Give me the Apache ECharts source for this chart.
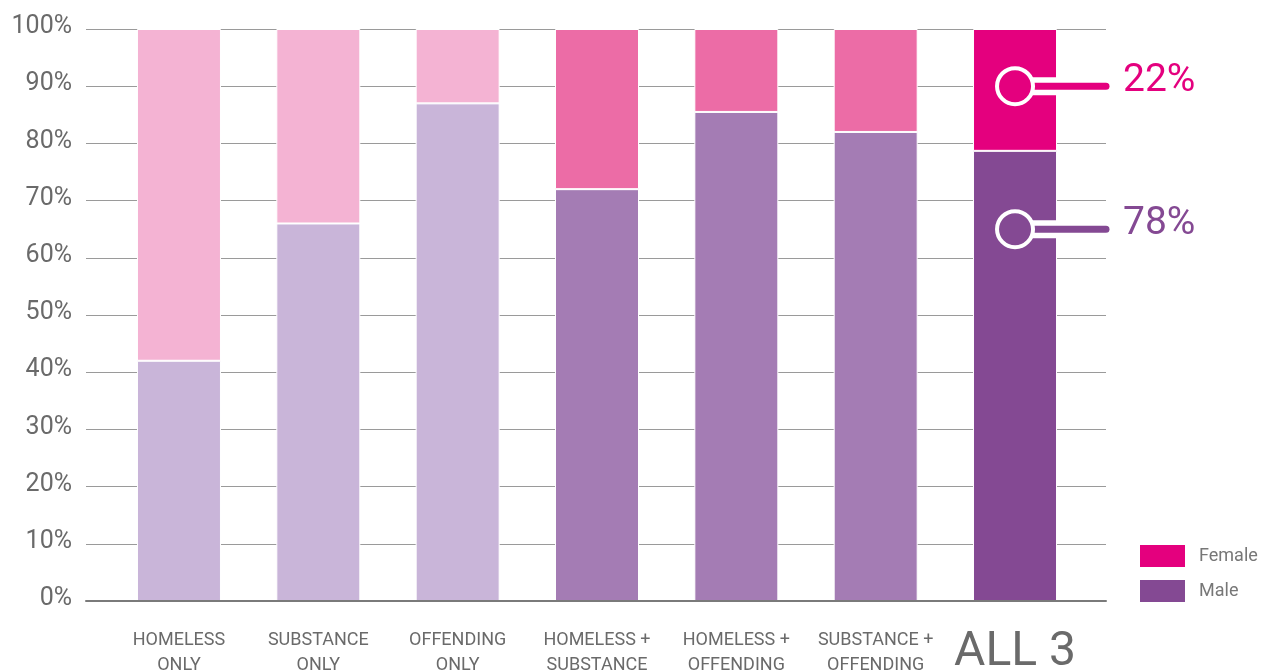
<!DOCTYPE html>
<html>
<head>
<meta charset="utf-8">
<script src="https://cdn.jsdelivr.net/npm/echarts@6/dist/echarts.min.js"></script>
<style>
html,body{margin:0;padding:0;background:#fff;}
#c{width:1278px;height:672px;}
</style>
</head>
<body>
<div id="c"></div>
<script>
const categories = ['HOMELESS\nONLY','SUBSTANCE\nONLY','OFFENDING\nONLY','HOMELESS +\nSUBSTANCE','HOMELESS +\nOFFENDING','SUBSTANCE +\nOFFENDING','ALL 3'];
const male = [42, 66, 87, 72, 85.5, 82, 78.7];
const female = [58, 34, 13, 28, 14.5, 18, 21.3];
const maleColors = ['#C9B5D9','#C9B5D9','#C9B5D9','#A47CB4','#A47CB4','#A47CB4','#844993'];
const femaleColors = ['#F4B3D3','#F4B3D3','#F4B3D3','#EC6CA6','#EC6CA6','#EC6CA6','#E4007E'];
const seriesNames = ['Female','Male'];
const annotationText = ['22%','78%'];
const annotationY = [90, 65];
const annotationColors = ['#E4007E','#844993'];

const chart = echarts.init(document.getElementById('c'));
const FONT = 'Roboto';
const TXT = '#6a6a6a';

const option = {
  animation: false,
  grid: [
    {left: 86, right: 172, top: 29, bottom: 71, outerBoundsMode: 'none', containLabel: false},
    {left: 109.3, right: 193.3, top: 29, bottom: 71, outerBoundsMode: 'none', containLabel: false}
  ],
  legend: {
    data: seriesNames,
    orient: 'vertical',
    left: 1138, top: 543, padding: 0,
    itemWidth: 47, itemHeight: 24, itemGap: 9,
    icon: 'rect',
    textStyle: {fontSize: 18, color: '#777', fontFamily: FONT, padding: [0,0,0,8]}
  },
  xAxis: [
    {type: 'value', gridIndex: 0, min: 0, max: 1, z: 5,
     axisLine: {show: true, onZero: false, lineStyle: {color: '#7a7a7a', width: 2}},
     axisTick: {show: false}, axisLabel: {show: false}, splitLine: {show: false}},
    {type: 'category', gridIndex: 1, data: categories,
     axisLine: {show: false}, axisTick: {show: false},
     axisLabel: {
       interval: 0, margin: 27, verticalAlign: 'top',
       formatter: function (v) {
         if (v === 'ALL 3') return '{big|' + v + '}';
         return v.split('\n').map(function (l) { return '{s|' + l + '}'; }).join('\n');
       },
       rich: {
         s: {fontSize: 18, lineHeight: 25, color: TXT, fontFamily: FONT},
         big: {fontSize: 48, lineHeight: 50, color: TXT, fontFamily: FONT}
       }
     }}
  ],
  yAxis: [
    {type: 'value', gridIndex: 0, min: 0, max: 100, interval: 10,
     axisLabel: {formatter: '{value}%', fontSize: 25, color: TXT, fontFamily: FONT, margin: 14,
                 verticalAlign: 'bottom', lineHeight: 4},
     splitLine: {lineStyle: {color: '#9a9a9a', width: 1}},
     axisLine: {show: false}, axisTick: {show: false}},
    {type: 'value', gridIndex: 1, min: 0, max: 100, show: false, splitLine: {show: false}}
  ],
  series: [
    {name: 'Male', type: 'bar', stack: 'a', xAxisIndex: 1, yAxisIndex: 1, barWidth: 84,
     itemStyle: {color: '#844993', borderColor: '#fff', borderWidth: 1},
     data: male.map(function (v, i) { return {value: v, itemStyle: {color: maleColors[i]}}; })},
    {name: 'Female', type: 'bar', stack: 'a', xAxisIndex: 1, yAxisIndex: 1, barWidth: 84,
     itemStyle: {color: '#E4007E', borderColor: '#fff', borderWidth: 1},
     data: female.map(function (v, i) { return {value: v, itemStyle: {color: femaleColors[i]}}; })}
  ]
};
chart.setOption(option);

const rightEnd = chart.convertToPixel({gridIndex: 0}, [1, 0])[0];
const graphics = [];
annotationY.forEach(function (yv, i) {
  const p = chart.convertToPixel({gridIndex: 1}, [categories.length - 1, yv]);
  const cx = p[0], cy = p[1];
  graphics.push({type: 'line', z: 100, shape: {x1: cx, y1: cy, x2: rightEnd, y2: cy},
    style: {stroke: '#fff', lineWidth: 18, lineCap: 'round'}});
  graphics.push({type: 'line', z: 101, shape: {x1: cx, y1: cy, x2: rightEnd, y2: cy},
    style: {stroke: annotationColors[i], lineWidth: 7, lineCap: 'round'}});
  graphics.push({type: 'circle', z: 102, shape: {cx: cx, cy: cy, r: 18},
    style: {fill: annotationColors[i], stroke: '#fff', lineWidth: 4}});
  graphics.push({type: 'text', z: 103, x: rightEnd + 17, y: cy - 5,
    style: {text: annotationText[i], fill: annotationColors[i], fontSize: 39, fontFamily: FONT,
            verticalAlign: 'middle', align: 'left'}});
});
chart.setOption({graphic: graphics});
</script>
</body>
</html>
